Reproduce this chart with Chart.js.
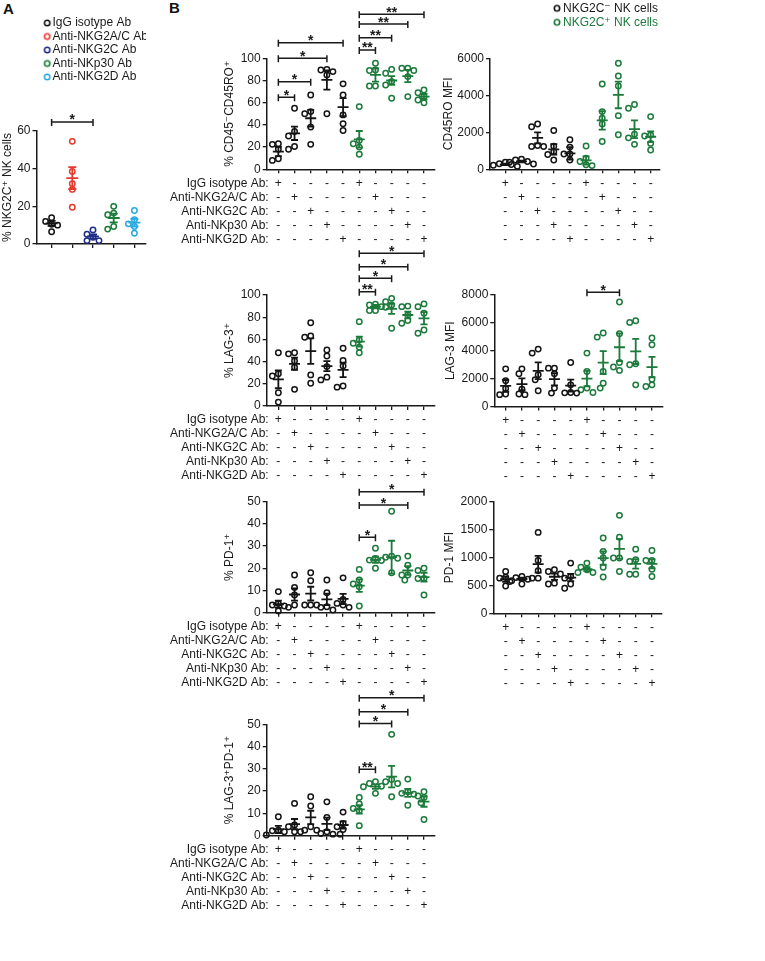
<!DOCTYPE html>
<html><head><meta charset="utf-8">
<script src="https://cdn.jsdelivr.net/npm/chart.js@4.4.1/dist/chart.umd.min.js"></script>
<style>
html,body{margin:0;padding:0;background:#fff;}
body{width:765px;height:961px;position:relative;overflow:hidden;font-family:'Liberation Sans',Arial,sans-serif;}
canvas{position:absolute;}
.plabel{position:absolute;font-weight:bold;font-size:15px;color:#111;line-height:16px;}
</style></head><body>
<div class="plabel" style="left:3px;top:1px">A</div>
<div class="plabel" style="left:169px;top:0px">B</div>
<canvas id="cA"></canvas>
<canvas id="cB1"></canvas>
<canvas id="cB2"></canvas>
<canvas id="cB3"></canvas>
<canvas id="cB4"></canvas>
<canvas id="cB5"></canvas>
<canvas id="cB6"></canvas>
<canvas id="cB7"></canvas>
<script>
// ================= DATA =================
const treatmentRowLabels = ['IgG isotype Ab:', 'Anti-NKG2A/C Ab:', 'Anti-NKG2C Ab:', 'Anti-NKp30 Ab:', 'Anti-NKG2D Ab:'];
const treatmentSigns = [
  ['+','-','-','-','-','+','-','-','-','-'],
  ['-','+','-','-','-','-','+','-','-','-'],
  ['-','-','+','-','-','-','-','+','-','-'],
  ['-','-','-','+','-','-','-','-','+','-'],
  ['-','-','-','-','+','-','-','-','-','+']
];
const cellSeries = ['NKG2C\u207B NK cells', 'NKG2C\u207A NK cells'];

// Panel A
const panelALabels = ['IgG isotype Ab', 'Anti-NKG2A/C Ab', 'Anti-NKG2C Ab', 'Anti-NKp30 Ab', 'Anti-NKG2D Ab'];
const panelAPoints = [[14, 12, 10.5, 10, 6.5], [54.5, 38.5, 32, 29, 19.5], [7.5, 5.2, 3.6, 1.8, 1.8], [20, 16.4, 15.5, 9.3, 7.9], [17.8, 12.9, 10.7, 9.3, 5.7]];
const panelAMean = [11, 35, 4, 13.8, 11.3];
const panelASem = [1.3, 5.8, 1.1, 2.3, 2];
const panelASig = [[0, 2, 64.8, '*']];

// Panel B: % CD45-CD45RO+
const cd45roPctPoints = [[23, 22.5, 18, 9.5, 8], [55, 34, 30, 20.5, 18], [67, 52, 50, 38, 22.5], [90, 89.5, 88, 85, 50], [77, 67, 49, 41, 35],
  [56.5, 26, 23, 20, 13.5], [95.5, 89.5, 89, 75, 75], [90, 86.5, 79, 76, 64], [91, 91, 89, 83.5, 65.5], [71.5, 69, 65.5, 62.5, 60]];
const cd45roPctMean = [16, 32.4, 46, 80.5, 56, 27, 85, 80, 84, 65.5];
const cd45roPctSem = [4.2, 6, 7.5, 8.7, 8.2, 7.5, 6, 4, 5.5, 2.5];
const cd45roPctSig = [[0,1,64.9,'*'],[0,2,78.9,'*'],[0,3,100,'*'],[0,4,114,'*'],[5,6,107.5,'**'],[5,7,118.6,'**'],[5,8,130.9,'**'],[5,9,139.6,'**']];

// CD45RO MFI
const cd45roMfiPoints = [[380, 300, 260, 220, 160], [540, 500, 420, 380, 290], [2450, 2300, 1280, 1230, 1230], [2100, 1250, 950, 800, 500], [1600, 1200, 830, 830, 500],
  [1260, 600, 420, 250, 200], [4610, 3120, 2760, 2450, 1500], [5730, 5045, 4500, 2900, 1870], [3500, 3300, 1900, 1700, 1350], [2850, 1860, 1800, 1400, 1045]];
const cd45roMfiMean = [265, 425, 1700, 1080, 860, 480, 2650, 4020, 2170, 1760];
const cd45roMfiSem = [40, 45, 300, 280, 340, 220, 500, 720, 480, 290];

// % LAG-3+
const lag3PctPoints = [[48, 29, 27, 12, 3.5], [48, 47, 40.5, 35, 15], [75, 63, 62, 28, 20.5], [50.5, 45, 35.5, 26, 23.5], [52, 41, 36, 18, 17],
  [76, 59.5, 56.5, 53, 48], [91.6, 91, 89.5, 86, 86], [97, 94, 91, 89, 70], [90, 89.5, 82, 77, 74.5], [92, 89.5, 83.5, 68.5, 65.5]];
const lag3PctMean = [24, 38, 49.5, 36, 32.5, 58, 89.5, 87.5, 82, 79];
const lag3PctSem = [8, 5.5, 11.5, 4.5, 6.5, 4.5, 1.5, 4.5, 3, 5.5];
const lag3PctSig = [[5,6,103,'**'],[5,7,115,'*'],[5,8,125.5,'*'],[5,9,137.6,'*']];

// LAG-3 MFI
const lag3MfiPoints = [[2700, 1850, 1300, 900, 850], [2700, 2350, 1250, 900, 850], [4120, 3830, 2275, 1915, 1125], [2750, 2750, 2350, 1320, 960], [3160, 1555, 1000, 980, 960],
  [3830, 2515, 1320, 1200, 1000], [5270, 4980, 2515, 1675, 1320], [7500, 5220, 3160, 2830, 2590], [6155, 6035, 3065, 3000, 1555], [4910, 4430, 1960, 1555, 1435]];
const lag3MfiMean = [1480, 1600, 2560, 1960, 1500, 2000, 3150, 4250, 3950, 2830];
const lag3MfiSem = [420, 420, 600, 440, 430, 560, 820, 1000, 900, 730];
const lag3MfiSig = [[5,7,8190,'*']];

// % PD-1+
const pd1PctPoints = [[9.5, 4.2, 3.5, 3, 0.8], [17, 11.4, 8, 3.5, 2.4], [18, 14.4, 3.5, 3.5, 3.5], [14.7, 9, 2.7, 2.4, 1.2], [15.7, 6, 4.2, 3.5, 2.4],
  [19.5, 14.7, 12.9, 11.7, 3], [29, 24.4, 23.7, 23.5, 20], [45.7, 25.5, 25, 24.5, 18], [25.5, 21.4, 17, 17, 14.7], [20, 19, 15.4, 15.4, 8]];
const pd1PctMean = [3.8, 8.2, 8.6, 6, 6.2, 12.2, 23.8, 25, 19, 16];
const pd1PctSem = [1.6, 2.8, 3.1, 2.6, 2.3, 2.8, 1.4, 7.4, 2, 2];
const pd1PctSig = [[5,6,34,'*'],[5,8,48.5,'*'],[5,9,54.5,'*']];

// PD-1 MFI
const pd1MfiPoints = [[750, 645, 630, 585, 490], [660, 640, 610, 570, 525], [1450, 945, 765, 630, 630], [780, 750, 705, 540, 525], [900, 660, 630, 525, 450],
  [900, 825, 780, 730, 730], [1350, 1110, 990, 825, 650], [1755, 1365, 990, 990, 750], [1150, 960, 930, 700, 700], [1125, 945, 945, 790, 660]];
const pd1MfiMean = [610, 615, 880, 655, 640, 790, 990, 1155, 885, 885];
const pd1MfiSem = [45, 25, 150, 55, 65, 35, 120, 180, 85, 80];

// % LAG-3+PD-1+
const dpPctPoints = [[8.5, 2.5, 2.2, 1.8, 0.3], [14.5, 4.8, 4, 1.8, 1.8], [17.5, 13.3, 4, 2.5, 2.5], [15.2, 8.2, 1.8, 1, 0.7], [10.6, 5.5, 4, 2.8, 0.7],
  [17.2, 14.2, 12.2, 11.2, 4.5], [24.2, 23.4, 22.2, 22, 19], [45.5, 25.2, 24.2, 23.4, 17.5], [25.4, 19.7, 19, 18.6, 13.7], [19.7, 17.8, 17.2, 14.8, 7.3]];
const dpPctMean = [2.8, 5.2, 8.2, 5.3, 4.8, 11.8, 22, 26.5, 19.2, 15.3];
const dpPctSem = [1.6, 2.3, 3, 2.8, 1.6, 1.9, 1, 4.8, 1.8, 2.3];
const dpPctSig = [[5,6,29.8,'**'],[5,7,50.4,'*'],[5,8,55.6,'*'],[5,9,61.9,'*']];

// ================= STYLE / LAYOUT =================
const FONT = "'Liberation Sans', Arial, 'DejaVu Sans', sans-serif";
Chart.defaults.font.family = FONT;
Chart.defaults.font.size = 12;
Chart.defaults.color = '#1a1a1a';
const AX = '#1a1a1a';
const BLACK = '#141414';
const GREEN = '#1c7a3b';
const colorsA = ['#141414', '#e8392f', '#1f2d87', '#1c7a3b', '#29a9df'];

const geo = {
  A:  {x:0,   y:0,   w:160, h:265, pad:{left:0.8, top:15.5,right:14,   bottom:9},   yW:35.7, xH:12, spacer:38, xMin:-0.73, xMax:4.56, plotW:109.5, plotH:113, meanHalf:6, capHalf:4},
  B1: {x:160, y:0,   w:285, h:250, pad:{left:62.8,top:58.3,right:10,   bottom:0.7}, yW:43.9, xH:80, xMin:-0.72, xMax:9.68, plotW:168.3, plotH:111},
  B2: {x:438, y:0,   w:237, h:250, pad:{left:3.8, top:0.3, right:15,   bottom:0.7}, yW:48.2, xH:80, spacer:20, xMin:-0.95, xMax:9.58, plotW:170, plotH:111},
  B3: {x:160, y:245, w:285, h:245, pad:{left:62.8,top:50,  right:10,   bottom:4},   yW:43.9, xH:80, xMin:-0.72, xMax:9.68, plotW:168.3, plotH:111},
  B4: {x:440, y:245, w:235, h:245, pad:{left:3.8, top:50,  right:12.3, bottom:3.5}, yW:50.5, xH:80, xMin:-0.70, xMax:9.66, plotW:168.4, plotH:111.5},
  B5: {x:160, y:478, w:285, h:217, pad:{left:62.8,top:23.7,right:10,   bottom:2.3}, yW:43.9, xH:80, xMin:-0.72, xMax:9.68, plotW:168.3, plotH:111},
  B6: {x:440, y:478, w:235, h:217, pad:{left:2.8, top:23.7,right:13.3, bottom:1.7}, yW:50.5, xH:80, xMin:-0.76, xMax:9.6,  plotW:168.4, plotH:111.6},
  B7: {x:160, y:685, w:285, h:235, pad:{left:62.8,top:39.3,right:10,   bottom:4.3}, yW:43.9, xH:80, xMin:-0.72, xMax:9.68, plotW:168.3, plotH:111.4}
};

function swarm(values, yPx) {
  const order = values.map((_, i) => i).sort((a, b) => values[b] - values[a]);
  const placed = [], out = new Array(values.length).fill(0);
  const cands = [0, -3, 3, -6, 6, -9, 9, -12, 12];
  order.forEach(i => {
    const y = values[i] * yPx;
    let chosen = cands[cands.length - 1];
    for (const dx of cands) {
      if (placed.every(p => Math.hypot(p.x - dx, p.y - y) >= 5.5)) { chosen = dx; break; }
    }
    placed.push({x: chosen, y});
    out[i] = chosen;
  });
  return out;
}

function makeMarker(color, shift) {
  const c = document.createElement('canvas');
  const w = Math.ceil(2 * (Math.abs(shift) + 5));
  c.width = w; c.height = 10;
  const g = c.getContext('2d');
  g.strokeStyle = color; g.lineWidth = 1.6;
  g.beginPath(); g.arc(w / 2 + shift, 5, 2.7, 0, Math.PI * 2); g.stroke();
  return c;
}

const decoPlugin = {
  id: 'deco',
  afterDatasetsDraw(chart, args, o) {
    const ctx = chart.ctx, xs = chart.scales.x, ys = chart.scales.y;
    ctx.save();
    ctx.lineWidth = 1.8;
    o.means.forEach((m, g) => {
      const x = xs.getPixelForValue(g);
      const ym = ys.getPixelForValue(m);
      const yt = ys.getPixelForValue(m + o.sems[g]);
      const yb = ys.getPixelForValue(m - o.sems[g]);
      ctx.strokeStyle = o.colors[g];
      ctx.beginPath();
      ctx.moveTo(x - o.meanHalf, ym); ctx.lineTo(x + o.meanHalf, ym);
      ctx.moveTo(x, yt); ctx.lineTo(x, yb);
      ctx.moveTo(x - o.capHalf, yt); ctx.lineTo(x + o.capHalf, yt);
      ctx.moveTo(x - o.capHalf, yb); ctx.lineTo(x + o.capHalf, yb);
      ctx.stroke();
    });
    ctx.restore();
  },
  afterDraw(chart, args, o) {
    const ctx = chart.ctx, xs = chart.scales.x, ys = chart.scales.y;
    ctx.save();
    (o.sig || []).forEach(([g1, g2, lvl, lab]) => {
      const x1 = xs.getPixelForValue(g1), x2 = xs.getPixelForValue(g2), y = ys.getPixelForValue(lvl);
      ctx.strokeStyle = AX; ctx.lineWidth = 1.5;
      ctx.beginPath();
      ctx.moveTo(x1, y - 3); ctx.lineTo(x1, y + 4);
      ctx.moveTo(x1, y); ctx.lineTo(x2, y);
      ctx.moveTo(x2, y - 3); ctx.lineTo(x2, y + 4);
      ctx.stroke();
      ctx.fillStyle = AX; ctx.font = 'bold 14px ' + FONT;
      ctx.textAlign = 'center'; ctx.textBaseline = 'alphabetic';
      ctx.fillText(lab, (x1 + x2) / 2, y + 2.5);
    });
    if (o.rowLabels) {
      ctx.fillStyle = AX; ctx.font = '12px ' + FONT;
      ctx.textAlign = 'right'; ctx.textBaseline = 'middle';
      o.rowLabels.forEach((t, i) => ctx.fillText(t, chart.chartArea.left + 2, xs.top + 4 + 3 + 7 + 14 * i));
    }
    ctx.restore();
  }
};

function buildChart(id, g, spec) {
  const el = document.getElementById(id);
  el.width = g.w; el.height = g.h;
  el.style.left = g.x + 'px'; el.style.top = g.y + 'px';
  const xPx = g.plotW / (g.xMax - g.xMin);
  const yPx = g.plotH / spec.yMax;
  const groupColors = [];
  spec.series.forEach(s => s.groups.forEach(k => { groupColors[k] = s.color; }));
  const datasets = spec.series.map(s => ({
    label: s.label,
    data: s.groups.flatMap(k => {
      const off = swarm(spec.points[k], yPx);
      return spec.points[k].map((v, i) => ({x: k + off[i] / xPx, y: v}));
    }),
    borderColor: s.color, backgroundColor: 'rgba(0,0,0,0)',
    pointBorderColor: s.color, pointBackgroundColor: 'rgba(0,0,0,0)',
    pointRadius: 2.7, pointHoverRadius: 2.7, pointBorderWidth: 1.5, borderWidth: 1.5,
    showLine: false, clip: false
  }));
  const gridOpt = {display: true, drawOnChartArea: false, drawTicks: true, tickLength: 4, color: AX, lineWidth: 1.3};
  const borderOpt = {display: true, color: AX, width: 1.5};
  const scales = {
    x: {
      type: 'linear', min: g.xMin, max: g.xMax, grid: gridOpt, border: borderOpt,
      ticks: {
        stepSize: 1, includeBounds: false, autoSkip: false, maxRotation: 0, minRotation: 0, padding: 3, color: AX,
        font: {size: 12, lineHeight: 14 / 12},
        callback: spec.table ? (v => Number.isInteger(v) ? treatmentSigns.map(r => r[v]) : '') : (() => '')
      },
      afterFit: s => { s.height = g.xH; }
    },
    y: {
      type: 'linear', min: 0, max: spec.yMax, grid: gridOpt, border: borderOpt,
      ticks: {stepSize: spec.yStep, padding: 2, color: AX, font: {size: 12}, callback: v => String(v)},
      title: {display: true, text: spec.yTitle, color: AX, font: {size: 12}, padding: {top: 0, bottom: 0}},
      afterFit: s => { s.width = g.yW; }
    }
  };
  if (g.spacer) {
    scales.spacer = {type: 'linear', position: 'top', display: true, grid: {display: false}, border: {display: false},
      ticks: {display: false}, afterFit: s => { s.height = g.spacer; }};
  }
  const L = spec.legend;
  const legend = L ? {
    display: true, position: 'top', align: L.align, fullSize: false,
    labels: {
      usePointStyle: true, boxWidth: L.boxW, boxHeight: 6, padding: L.pad, font: {size: 12}, color: AX,
      generateLabels: chart => chart.data.datasets.map((ds, i) => ({
        text: ds.label, fillStyle: 'rgba(0,0,0,0)', strokeStyle: ds.borderColor, lineWidth: 0,
        pointStyle: makeMarker(ds.borderColor, L.shift), hidden: false, datasetIndex: i,
        fontColor: L.textColors ? L.textColors[i] : AX
      }))
    }
  } : {display: false};
  return new Chart(el, {
    type: 'scatter',
    data: {datasets},
    options: {
      responsive: false, animation: false, devicePixelRatio: 1, events: [],
      layout: {padding: g.pad},
      scales,
      plugins: {
        legend, tooltip: {enabled: false},
        deco: {means: spec.means, sems: spec.sems, colors: groupColors, sig: spec.sig,
               rowLabels: spec.rowLabels, meanHalf: g.meanHalf || 5.5, capHalf: g.capHalf || 3.5}
      }
    },
    plugins: [decoPlugin]
  });
}

const bSeries = [{label: cellSeries[0], color: BLACK, groups: [0,1,2,3,4]}, {label: cellSeries[1], color: GREEN, groups: [5,6,7,8,9]}];

buildChart('cA', geo.A, {
  series: panelALabels.map((l, i) => ({label: l, color: colorsA[i], groups: [i]})),
  points: panelAPoints, means: panelAMean, sems: panelASem, sig: panelASig,
  yMax: 60, yStep: 20, yTitle: '% NKG2C\u207A NK cells', table: false,
  legend: {align: 'start', boxW: 8.5, pad: 1.5, shift: 5}
});
buildChart('cB1', geo.B1, {series: bSeries, points: cd45roPctPoints, means: cd45roPctMean, sems: cd45roPctSem, sig: cd45roPctSig,
  yMax: 100, yStep: 20, yTitle: '% CD45\u207BCD45RO\u207A', table: true, rowLabels: treatmentRowLabels});
buildChart('cB2', geo.B2, {series: bSeries, points: cd45roMfiPoints, means: cd45roMfiMean, sems: cd45roMfiSem, sig: [],
  yMax: 6000, yStep: 2000, yTitle: 'CD45RO MFI', table: true,
  legend: {align: 'end', boxW: 1, pad: 2, shift: 0.5, textColors: [AX, GREEN]}});
buildChart('cB3', geo.B3, {series: bSeries, points: lag3PctPoints, means: lag3PctMean, sems: lag3PctSem, sig: lag3PctSig,
  yMax: 100, yStep: 20, yTitle: '% LAG-3\u207A', table: true, rowLabels: treatmentRowLabels});
buildChart('cB4', geo.B4, {series: bSeries, points: lag3MfiPoints, means: lag3MfiMean, sems: lag3MfiSem, sig: lag3MfiSig,
  yMax: 8000, yStep: 2000, yTitle: 'LAG-3 MFI', table: true});
buildChart('cB5', geo.B5, {series: bSeries, points: pd1PctPoints, means: pd1PctMean, sems: pd1PctSem, sig: pd1PctSig,
  yMax: 50, yStep: 10, yTitle: '% PD-1\u207A', table: true, rowLabels: treatmentRowLabels});
buildChart('cB6', geo.B6, {series: bSeries, points: pd1MfiPoints, means: pd1MfiMean, sems: pd1MfiSem, sig: [],
  yMax: 2000, yStep: 500, yTitle: 'PD-1 MFI', table: true});
buildChart('cB7', geo.B7, {series: bSeries, points: dpPctPoints, means: dpPctMean, sems: dpPctSem, sig: dpPctSig,
  yMax: 50, yStep: 10, yTitle: '% LAG-3\u207APD-1\u207A', table: true, rowLabels: treatmentRowLabels});
</script>
</body></html>
